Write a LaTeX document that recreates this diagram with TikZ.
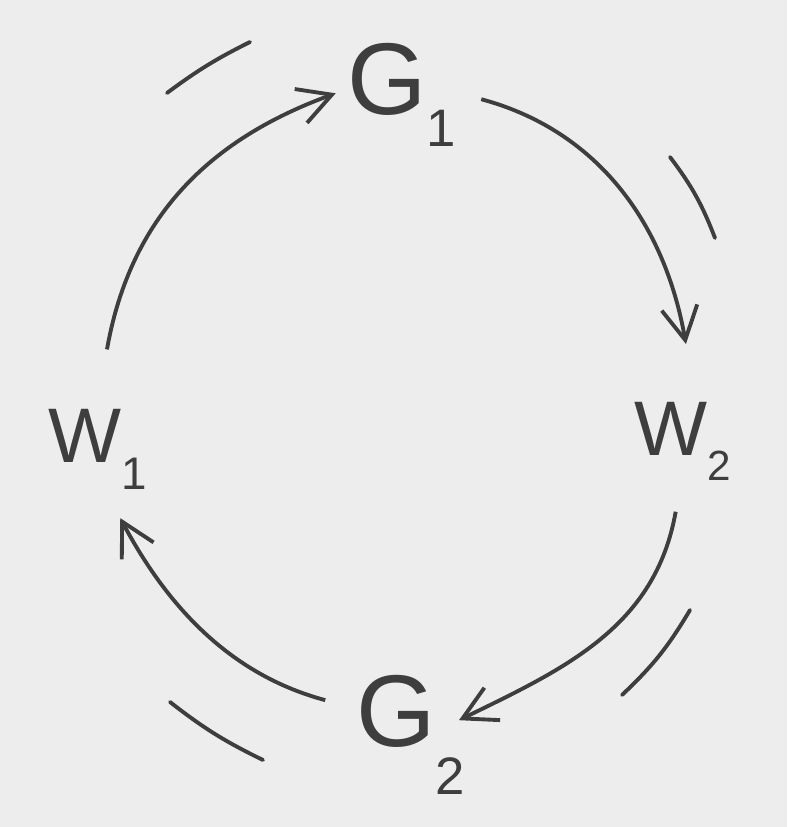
\documentclass[tikz,border=0pt]{standalone}
\usepackage{fontspec}
\setmainfont{Liberation Sans}
\usepackage{xcolor}
\usepackage{tikz}
\usetikzlibrary{arrows.meta}
\definecolor{paper}{RGB}{237,237,237}
\definecolor{ink}{RGB}{62,62,62}
% label centred on the node, letter with a dropped index
\newcommand{\cen}[1]{\makebox[0pt]{\raisebox{-0.36em}[0pt][0pt]{#1}}}
\newcommand{\lowidx}[3]{\raisebox{#1}{\fontsize{#2}{#2}\selectfont #3}}

\begin{document}
\begin{tikzpicture}[x=0.01cm,y=0.01cm,
  lbl/.style={circle,inner sep=0pt,outer sep=0pt,text=ink},
  gnode/.style={lbl,font=\fontsize{29}{29}\selectfont},
  wnode/.style={lbl,font=\fontsize{22}{22}\selectfont},
  arr/.style={-{Straight Barb[length=3.3mm,width=3.6mm,line width=1.1pt]},line width=1.1pt,draw=ink},
  tickline/.style={line width=1.1pt,draw=ink,line cap=round}]
\fill[paper] (0,0) rectangle (787,827);
\useasboundingbox (0,0) rectangle (787,827);
\node[gnode,minimum size=1.36cm] (g1) at (402,749) {\cen{G\lowidx{-9pt}{15}{1}}};
\node[wnode,minimum size=1.68cm] (w2) at (683,399) {\cen{W\lowidx{-7pt}{12}{2}}};
\node[gnode,minimum size=0.98cm] (g2) at (411,117) {\cen{G\lowidx{-13.7pt}{15}{2}}};
\node[wnode,minimum size=1.72cm] (w1) at (98,392) {\cen{W\lowidx{-7.7pt}{13}{1}}};
\draw[arr] (w1.84) to[out=80,in=200] (g1.193);
\draw[arr,shorten <=0.14cm] (g1.-15) to[out=-15,in=100] (w2.88);
\draw[arr] (w2.265) to[out=260,in=26] (g2.-12);
\draw[arr,shorten <=0.38cm] (g2.180) to[out=165,in=298] (w1.285);
% marks beside the arcs
\draw[tickline] (167,734) to[bend left=5] (250,785);
\draw[tickline] (670,670) to[bend left=8] (715,589);
\draw[tickline] (690,217) to[bend left=8] (622,132);
\draw[tickline] (170,125) to[bend right=6] (263,67);
\end{tikzpicture}
\end{document}
